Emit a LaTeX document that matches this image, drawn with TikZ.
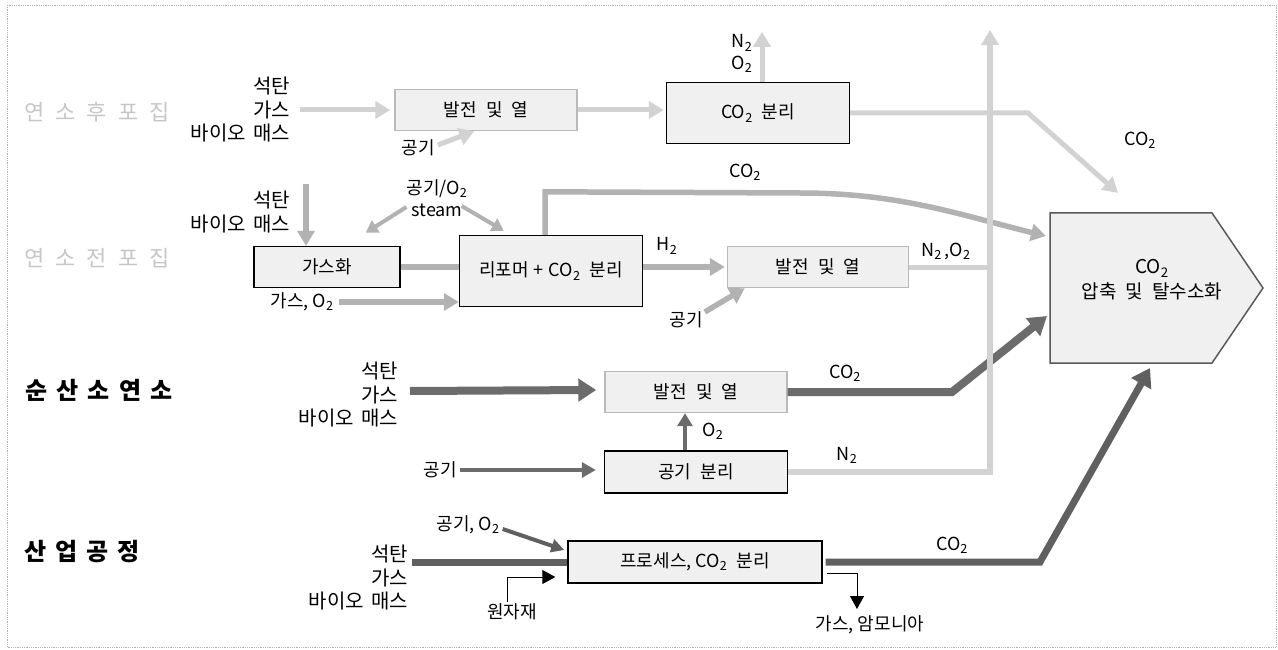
\documentclass[tikz,border=0pt]{standalone}
\usepackage{fontspec}
\setmainfont{Noto Sans CJK KR}
\usetikzlibrary{arrows.meta,calc}
\newcommand{\gp}{\hspace{9pt}}
\newcommand{\tg}{\hspace{11pt}}
\newcommand{\fs}{\hspace{7pt}}
\begin{document}
\begin{tikzpicture}[x=1pt,y=-1pt,
  box/.style={draw=black,line width=1.4pt,fill=gray!12,minimum height=41pt,inner sep=0pt,font=\fontsize{18}{21}\selectfont},
  lbox/.style={box,draw=gray!55},
  lbl/.style={inner sep=0pt,font=\fontsize{18}{21}\selectfont},
  fuel/.style={inner sep=0pt,align=right,font=\fontsize{20}{23.5}\selectfont},
  title/.style={inner sep=0pt,font=\fontsize{24}{26}\selectfont\bfseries},
  lightln/.style={draw=gray!35,line width=5pt},
  midln/.style={draw=gray!60,line width=5.5pt},
  darkln/.style={draw=gray!85!black,line width=8pt},
  dark4ln/.style={draw=gray!75!black,line width=7pt},
  tipA/.style={-{Triangle[length=15pt,width=17pt]}},
  tipB/.style={-{Triangle[length=18pt,width=22pt]}},
  thinln/.style={draw=black,line width=1pt,-{Triangle[length=13pt,width=14pt]}}
]
\useasboundingbox (0,0) rectangle (1278,650);
\draw[gray!60,densely dotted,line width=0.8pt] (7,5) rectangle (1276,647);

% ---------- big target box ----------
\draw[draw=gray!70!black,line width=1.5pt,fill=gray!12] (1050,213) -- (1212,213) -- (1263,288) -- (1212,363) -- (1050,363) -- cycle;
\node[lbl,align=center,font=\fontsize{19}{25}\selectfont] (cc) at (1152,280) {CO\textsubscript{2}\\압축\gp 및\gp 탈수소화};
\coordinate (cin1) at (1118,193);
\coordinate (cin2) at (1046,236);
\coordinate (cin3) at (1047,316);
\coordinate (cin4) at (1150,368);
\coordinate (vtop) at (990,30);
\coordinate (nhtip) at (857,609);

% ---------- row 1 ----------
\node[title,text=gray!45,font=\fontsize{22}{24}\selectfont] (t1) at (97,112) {연\tg 소\tg 후\tg 포\tg 집};
\node[fuel,anchor=east] (f1) at (290,110) {석탄\\가스\\바이오\fs 매스};
\node[lbox,minimum width=182pt] (pw1) at (486,110) {발전\gp 및\gp 열};
\node[lbl] (air1) at (418,148) {공기};
\node[box,minimum width=183pt,minimum height=61pt] (sep1) at (758,113) {CO\textsubscript{2}\gp 분리};
\node[lbl] (n2a) at (742,43) {N\textsubscript{2}};
\node[lbl] (o2a) at (742,64) {O\textsubscript{2}};
\node[lbl] (co2a) at (1140,140) {CO\textsubscript{2}};
\draw[lightln,tipA] ($(f1.east)+(10,0)$) -- ($(pw1.west)+(-4,0)$);
\draw[lightln,tipA] ($(air1.east)+(3,-3)$) -- ($(pw1.south west)+(80,0)$);
\draw[lightln,tipA] (pw1.east) -- ($(pw1.east -| sep1.west)+(-2,0)$);
\draw[lightln,tipA] ($(sep1.north)+(4,0)$) -- ++(0,-50);
\draw[lightln,tipA] (sep1.east) -- (1028,113) -- (cin1);

% ---------- row 2 ----------
\node[title,text=gray!45,font=\fontsize{22}{24}\selectfont] (t2) at (97,258) {연\tg 소\tg 전\tg 포\tg 집};
\node[fuel,anchor=east] (f2) at (290,212) {석탄\\바이오\fs 매스};
\node[box,minimum width=146pt] (gas) at (327,267) {가스화};
\coordinate (c2in) at (306,184);
\node[lbl,align=center,font=\fontsize{18}{22}\selectfont] (steam) at (437,198) {공기/O\textsubscript{2}\\steam};
\node[box,minimum width=183pt,minimum height=71pt] (ref) at (551,271) {리포머\hspace{5pt}+\hspace{5pt}CO\textsubscript{2}\gp 분리};
\node[lbl] (gaso2) at (302,302) {가스, O\textsubscript{2}};
\node[lbl] (co2b) at (745,172) {CO\textsubscript{2}};
\node[lbl] (h2) at (667,246) {H\textsubscript{2}};
\node[lbox,minimum width=181pt] (pw2) at (818,267) {발전\gp 및\gp 열};
\node[lbl] (air2) at (686,320) {공기};
\node[lbl] (n2o2) at (946,251) {N\textsubscript{2}\,,O\textsubscript{2}};
\draw[midln,tipA] (c2in) -- (c2in |- gas.north);
\draw[midln,line width=4pt,-{Triangle[length=12pt,width=14pt]}] ($(steam.west)+(0,9)$) -- ($(gas.north east)+(-35,-13)$);
\draw[midln,line width=4pt,-{Triangle[length=12pt,width=14pt]}] ($(steam.east)+(-6,8)$) -- ($(ref.north west)+(45,-4)$);
\draw[midln] (gas.east) -- (gas.east -| ref.west);
\draw[midln,tipA] ($(gaso2.east)+(5,0)$) -- (gaso2.east -| ref.west);
\draw[midln,tipA] ($(ref.north)+(-6,0)$) -- ($(ref.north)+(-6,-43)$) -- (800,193) .. controls (900,193) and (960,215) .. (cin2);
\draw[midln,tipA] (ref.east |- pw2.west) -- ($(pw2.west)+(-2,0)$);
\draw[midln,tipA] ($(air2.east)+(2,-8)$) -- ($(pw2.south west)+(18,0)$);

% ---------- row 3 ----------
\node[title] (t3) at (99,390) {순\gp 산\gp 소\gp 연\gp 소};
\node[fuel,anchor=east] (f3) at (398,395) {석탄\\가스\\바이오\fs 매스};
\node[lbox,minimum width=182pt] (pw3) at (696,392) {발전\gp 및\gp 열};
\node[box,minimum width=183pt,minimum height=42pt] (asep) at (696,472) {공기\gp 분리};
\node[lbl] (o2c) at (713,431) {O\textsubscript{2}};
\node[lbl] (air3) at (440,470) {공기};
\node[lbl] (co2c) at (845,373) {CO\textsubscript{2}};
\node[lbl] (n2c) at (847,455) {N\textsubscript{2}};
\draw[darkln,tipB] ($(f3.east)+(12,-4)$) -- ($(pw3.west)+(-8,-2)$);
\draw[darkln,line width=4pt,-{Triangle[length=13pt,width=15pt]}] ($(asep.north)+(-11,0)$) -- ($(pw3.south)+(-11,0)$);
\draw[darkln,line width=4pt,-{Triangle[length=14pt,width=15pt]}] ($(air3.east)+(3,0)$) -- ($(asep.west |- air3.east)+(-8,0)$);
\draw[darkln,tipB] (pw3.east) -- (952,392) -- (cin3);
\draw[lightln] (pw2.east) -- (pw2.east -| vtop);
\draw[lightln,line width=5.5pt,tipA] (asep.east) -- (asep.east -| vtop) -- (vtop);

% ---------- row 4 ----------
\node[title] (t4) at (82,552) {산\gp 업\gp 공\gp 정};
\node[fuel,anchor=east] (f4) at (408,578) {석탄\\가스\\바이오\fs 매스};
\node[box,minimum width=254pt,minimum height=42pt] (proc) at (695,562) {프로세스, CO\textsubscript{2}\gp 분리};
\node[lbl] (airo2) at (468,525) {공기, O\textsubscript{2}};
\node[lbl] (raw) at (512,612) {원자재};
\node[lbl] (co2d) at (952,545) {CO\textsubscript{2}};
\node[lbl] (nh3) at (870,625) {가스, 암모니아};
\draw[dark4ln,line width=4pt,-{Triangle[length=13pt,width=13pt]}] ($(airo2.east)+(3,4)$) -- ($(proc.west)+(-3,-12)$);
\draw[dark4ln] ($(f4.east)+(4,-16)$) -- (proc.west);
\draw[thinln] ($(raw.north)+(-5,-2)$) |- ($(proc.west)+(-12,15)$);
\draw[dark4ln,tipB] ($(proc.east)+(3,0)$) -- (1040,562) -- (cin4);
\draw[thinln] ($(proc.east)+(4,11)$) -| (nhtip);
\end{tikzpicture}
\end{document}
